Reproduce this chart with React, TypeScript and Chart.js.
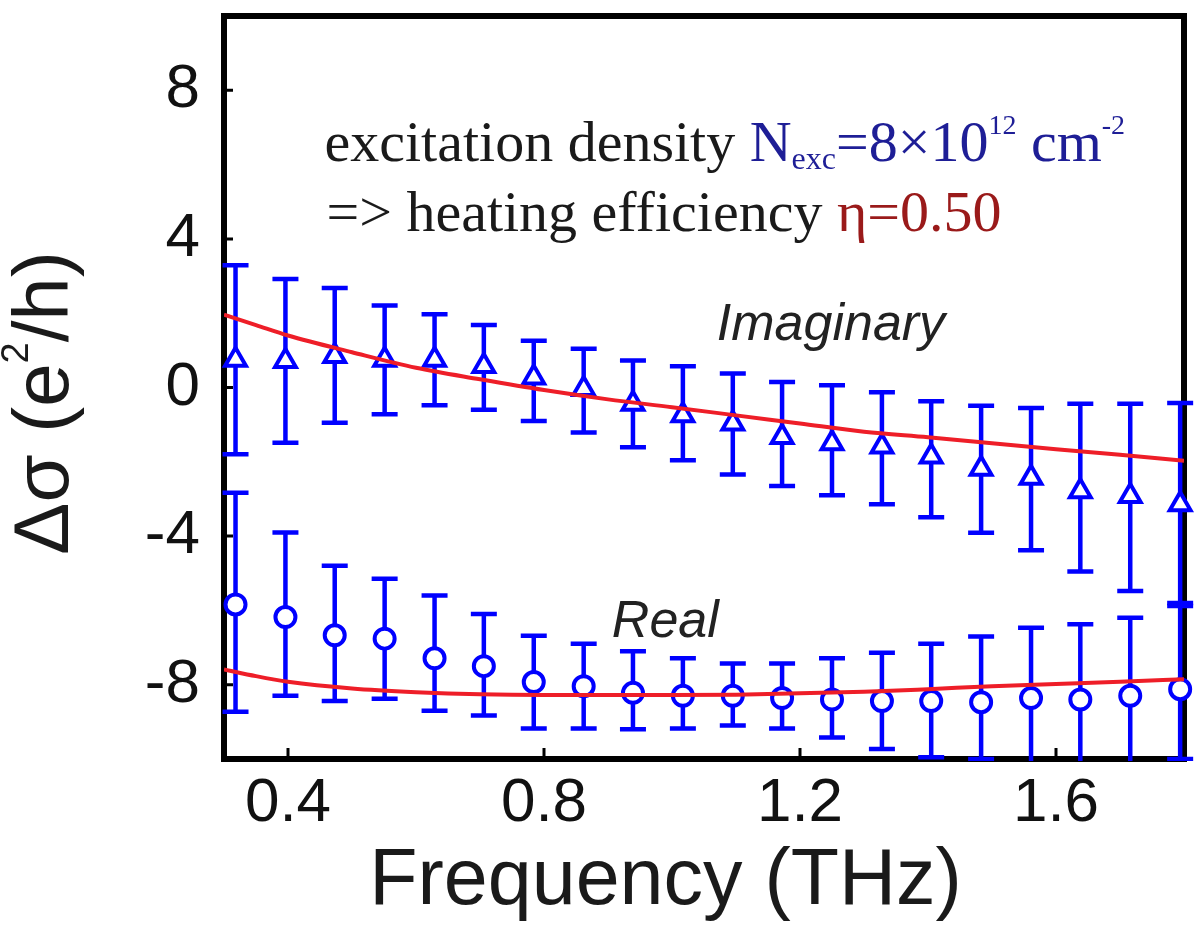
import { useEffect, useRef } from "react";
import { Chart, registerables, type Plugin } from "chart.js";

Chart.register(...registerables);

// measured frequencies (THz)
const frequency = [
  0.318, 0.396, 0.473, 0.551, 0.629, 0.706, 0.784, 0.862, 0.939, 1.017,
  1.095, 1.172, 1.25, 1.328, 1.405, 1.483, 1.561, 1.638, 1.716, 1.794,
];

// imaginary part, with error bar ends
const imagValue = [
  0.75, 0.71, 0.85, 0.75, 0.75, 0.58, 0.27, -0.04, -0.44, -0.75,
  -0.97, -1.33, -1.5, -1.59, -1.86, -2.19, -2.43, -2.79, -2.92, -3.14,
];
const imagHigh = [
  3.29, 2.92, 2.68, 2.21, 1.97, 1.68, 1.26, 1.04, 0.73, 0.57,
  0.38, 0.15, 0.06, -0.13, -0.37, -0.49, -0.55, -0.44, -0.44, -0.42,
];
const imagLow = [
  -1.8, -1.49, -0.95, -0.72, -0.48, -0.6, -0.9, -1.21, -1.61, -1.96,
  -2.34, -2.65, -2.9, -3.14, -3.49, -3.91, -4.38, -4.95, -5.48, -5.88,
];

// real part, with error bar ends
const realValue = [
  -5.84, -6.18, -6.67, -6.76, -7.29, -7.5, -7.93, -8.04, -8.22, -8.3,
  -8.3, -8.36, -8.4, -8.44, -8.44, -8.47, -8.36, -8.4, -8.3, -8.12,
];
const realHigh = [
  -2.83, -3.9, -4.8, -5.15, -5.6, -6.1, -6.68, -6.9, -7.1, -7.29,
  -7.43, -7.43, -7.29, -7.14, -6.9, -6.7, -6.47, -6.37, -6.2, -5.8,
];
const realLow = [
  -8.73, -8.3, -8.44, -8.38, -8.7, -8.83, -9.18, -9.18, -9.2, -9.18,
  -9.1, -9.18, -9.42, -9.73, -9.95, -10.0, -10.4, -10.4, -10.4, -10.0,
];

// model curves
const fitFrequency = [
  0.3, 0.35, 0.4, 0.5, 0.6, 0.7, 0.8, 0.9, 1.0, 1.1, 1.2, 1.3, 1.4, 1.5, 1.6, 1.7, 1.8,
];
const imagFit = [
  1.96, 1.68, 1.4, 0.95, 0.53, 0.22, -0.07, -0.32, -0.53, -0.75, -0.97, -1.19,
  -1.34, -1.5, -1.66, -1.81, -1.97,
];
const realFit = [
  -7.59, -7.77, -7.92, -8.1, -8.2, -8.26, -8.28, -8.28, -8.28, -8.27, -8.23,
  -8.19, -8.12, -8.04, -7.98, -7.92, -7.85,
];

const xTicks = [0.4, 0.8, 1.2, 1.6];
const yTicks = [-8, -4, 0, 4, 8];

const BLUE = "#0000ff";
const RED = "rgb(238, 30, 40)";
const SANS = "'Liberation Sans', Arial, sans-serif";
const SERIF = "'Liberation Serif', 'Times New Roman', serif";

type Run = { text: string; color: string; size: number; dy?: number; italic?: boolean };

function drawRuns(ctx: CanvasRenderingContext2D, x: number, y: number, runs: Run[], family: string) {
  let cx = x;
  for (const r of runs) {
    ctx.font = `${r.italic ? "italic " : ""}${r.size}px ${family}`;
    ctx.fillStyle = r.color;
    ctx.fillText(r.text, cx, y + (r.dy ?? 0));
    cx += ctx.measureText(r.text).width;
  }
}

const framePlugin: Plugin<"scatter"> = {
  id: "frameAndErrors",
  beforeDatasetsDraw(chart) {
    const { ctx, chartArea: a } = chart;
    const x = chart.scales.x;
    const y = chart.scales.y;

    ctx.save();
    ctx.strokeStyle = "#000";
    ctx.lineWidth = 6;
    ctx.strokeRect(a.left, a.top, a.right - a.left, a.bottom - a.top);
    ctx.lineWidth = 3;
    ctx.beginPath();
    for (const v of xTicks) {
      const px = x.getPixelForValue(v);
      ctx.moveTo(px, a.bottom);
      ctx.lineTo(px, a.bottom - 11);
    }
    for (const v of yTicks) {
      const py = y.getPixelForValue(v);
      ctx.moveTo(a.left, py);
      ctx.lineTo(a.left + 9, py);
    }
    ctx.stroke();
    ctx.restore();

    ctx.save();
    ctx.beginPath();
    ctx.rect(0, a.top - 2, chart.width, a.bottom - a.top + 4);
    ctx.clip();
    ctx.strokeStyle = BLUE;
    ctx.lineWidth = 4.5;
    const pairs = [
      [imagHigh, imagLow],
      [realHigh, realLow],
    ];
    for (const [hi, lo] of pairs) {
      frequency.forEach((f, i) => {
        const px = x.getPixelForValue(f);
        const top = y.getPixelForValue(hi[i]);
        const bot = y.getPixelForValue(lo[i]);
        ctx.beginPath();
        ctx.moveTo(px, top);
        ctx.lineTo(px, bot);
        ctx.moveTo(px - 13, top);
        ctx.lineTo(px + 13, top);
        ctx.moveTo(px - 13, bot);
        ctx.lineTo(px + 13, bot);
        ctx.stroke();
      });
    }
    ctx.restore();
  },
};

const textPlugin: Plugin<"scatter"> = {
  id: "texts",
  afterDraw(chart) {
    const { ctx } = chart;
    const x = chart.scales.x;
    const y = chart.scales.y;
    ctx.save();
    ctx.textAlign = "left";
    ctx.textBaseline = "alphabetic";

    const black = "#1a1a1a";
    const navy = "#1e1e96";
    const darkRed = "#9a1a1a";
    const tx = x.getPixelForValue(0.457);
    drawRuns(
      ctx,
      tx,
      y.getPixelForValue(6.1),
      [
        { text: "excitation density ", color: black, size: 58 },
        { text: "N", color: navy, size: 58 },
        { text: "exc", color: navy, size: 32, dy: 8 },
        { text: "=8×10", color: navy, size: 58 },
        { text: "12", color: navy, size: 28, dy: -27 },
        { text: " cm", color: navy, size: 58 },
        { text: "-2", color: navy, size: 28, dy: -27 },
      ],
      SERIF
    );
    drawRuns(
      ctx,
      tx + 2,
      y.getPixelForValue(4.22),
      [
        { text: "=> heating efficiency ", color: black, size: 58 },
        { text: "η=0.50", color: darkRed, size: 58 },
      ],
      SERIF
    );

    drawRuns(ctx, x.getPixelForValue(1.07), y.getPixelForValue(1.27), [
      { text: "Imaginary", color: "#222", size: 52, italic: true },
    ], SANS);
    drawRuns(ctx, x.getPixelForValue(0.906), y.getPixelForValue(-6.71), [
      { text: "Real", color: "#222", size: 52, italic: true },
    ], SANS);

    // x axis title
    ctx.font = `79px ${SANS}`;
    ctx.fillStyle = "#1a1a1a";
    ctx.textAlign = "center";
    ctx.fillText("Frequency (THz)", x.getPixelForValue(0.99), 904);

    // y axis title, rotated
    ctx.translate(68, 403);
    ctx.rotate(-Math.PI / 2);
    ctx.textAlign = "left";
    const parts: Run[] = [
      { text: "Δσ (e", color: "#1a1a1a", size: 78 },
      { text: "2", color: "#1a1a1a", size: 38, dy: -40 },
      { text: "/h)", color: "#1a1a1a", size: 78 },
    ];
    let w = 0;
    for (const p of parts) {
      ctx.font = `${p.size}px ${SANS}`;
      w += ctx.measureText(p.text).width;
    }
    drawRuns(ctx, -w / 2, 0, parts, SANS);
    ctx.restore();
  },
};

export default function App() {
  const canvasRef = useRef<HTMLCanvasElement>(null);

  useEffect(() => {
    document.body.style.margin = "0";
    if (!canvasRef.current) return;

    const chart = new Chart(canvasRef.current, {
      type: "scatter",
      data: {
        datasets: [
          {
            label: "Imaginary fit",
            type: "line",
            data: fitFrequency.map((f, i) => ({ x: f, y: imagFit[i] })),
            borderColor: RED,
            borderWidth: 4,
            pointRadius: 0,
            cubicInterpolationMode: "monotone",
            order: 0,
          },
          {
            label: "Real fit",
            type: "line",
            data: fitFrequency.map((f, i) => ({ x: f, y: realFit[i] })),
            borderColor: RED,
            borderWidth: 4,
            pointRadius: 0,
            cubicInterpolationMode: "monotone",
            order: 0,
          },
          {
            label: "Imaginary",
            data: frequency.map((f, i) => ({ x: f, y: imagValue[i] })),
            pointStyle: "triangle",
            pointRadius: 12,
            borderWidth: 4,
            borderColor: BLUE,
            backgroundColor: "#fff",
            clip: false,
            order: 1,
          },
          {
            label: "Real",
            data: frequency.map((f, i) => ({ x: f, y: realValue[i] })),
            pointStyle: "circle",
            pointRadius: 10,
            borderWidth: 4,
            borderColor: BLUE,
            backgroundColor: "#fff",
            clip: false,
            order: 1,
          },
        ],
      },
      options: {
        animation: false,
        responsive: true,
        maintainAspectRatio: false,
        layout: { padding: { left: 0, right: 14, top: 4, bottom: 0 } },
        plugins: {
          legend: { display: false },
          tooltip: { enabled: false },
        },
        scales: {
          x: {
            type: "linear",
            min: 0.3,
            max: 1.8,
            grid: { display: false },
            border: { display: false },
            afterBuildTicks: (s) => {
              s.ticks = xTicks.map((v) => ({ value: v }));
            },
            afterFit: (s) => {
              s.height = 166;
              s.paddingLeft = 0;
              s.paddingRight = 0;
            },
            ticks: {
              color: "#111",
              font: { family: SANS, size: 62 },
              padding: 0,
              maxRotation: 0,
              autoSkip: false,
              callback: (v) => Number(v).toFixed(1),
            },
          },
          y: {
            type: "linear",
            min: -10,
            max: 10,
            grid: { display: false },
            border: { display: false },
            afterBuildTicks: (s) => {
              s.ticks = yTicks.map((v) => ({ value: v }));
            },
            afterFit: (s) => {
              s.width = 224;
              s.paddingTop = 0;
              s.paddingBottom = 0;
            },
            ticks: {
              color: "#111",
              font: { family: SANS, size: 62 },
              padding: 16,
              autoSkip: false,
              callback: (v) => String(v),
            },
          },
        },
      },
      plugins: [framePlugin, textPlugin],
    });

    return () => {
      chart.destroy();
    };
  }, []);

  return (
    <div style={{ width: 1200, height: 925, position: "relative" }}>
      <canvas ref={canvasRef} />
    </div>
  );
}
